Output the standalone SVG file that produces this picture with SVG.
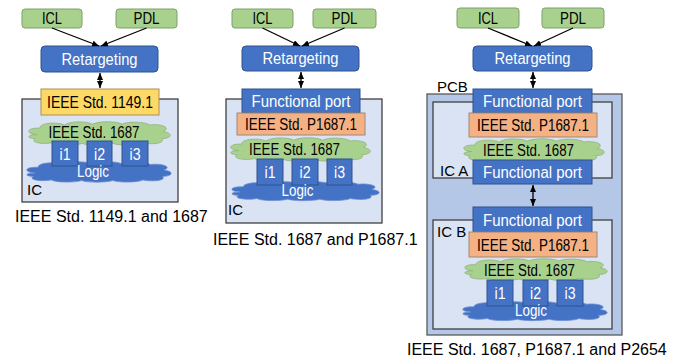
<svg xmlns="http://www.w3.org/2000/svg" xmlns:xlink="http://www.w3.org/1999/xlink" width="682" height="358" viewBox="0 0 682 358">
<style>
  .t { font-family: "Liberation Sans", Arial, sans-serif; font-size: 16px; text-anchor: middle; }
  .w { fill: #ffffff; }
  .k { fill: #000000; }
  .cap { font-family: "Liberation Sans", Arial, sans-serif; font-size: 16px; fill: #000; }
  .lbl { font-family: "Liberation Sans", Arial, sans-serif; font-size: 15px; fill: #000; }
  .gbox { fill: #a9d18e; stroke: #7f9f6a; stroke-width: 1; }
  .bbox { fill: #4472c4; stroke: #2f528f; stroke-width: 1; }
  .obox { fill: #f4b183; stroke: #a08878; stroke-width: 1; }
  .ybox { fill: #ffd966; stroke: #a6915a; stroke-width: 1; }
  .ic { fill: #dae3f3; stroke: #404040; stroke-width: 1.3; }
  .pcb { fill: #b4c7e7; stroke: #595959; stroke-width: 1.3; }
  .gcloud { fill: #a9d18e; stroke: #8fb07a; stroke-width: 0.8; }
  .bcloud { fill: #4472c4; stroke: #6d8fd0; stroke-width: 0.8; }
  .conn line { stroke: #000; stroke-width: 1.3; }
</style>
<defs>
  <marker id="ah" markerWidth="7" markerHeight="6" refX="7" refY="3" orient="auto-start-reverse" markerUnits="userSpaceOnUse">
    <path d="M0,0 L7,3 L0,6 z" fill="#000"/>
  </marker>
  <path id="cloud" vector-effect="non-scaling-stroke" d="M8,17 C0,16 1,8 10,9 C10,2 22,1 27,5 C30,0 42,0 46,4 C50,0 62,0 66,4 C70,0 82,1 85,5 C92,3 100,8 94,13 C101,15 100,22 93,22 C96,28 86,30 80,27 C76,31 64,31 60,28 C55,31 43,31 39,28 C34,31 22,31 19,27 C11,30 3,26 7,22 C1,22 1,17 8,17 Z"/>
</defs>

<!-- Panel 1 -->
<g id="p1-icl"><rect class="gbox" x="22" y="9" width="60" height="19" rx="3"/><text class="t k" x="52" y="24" textLength="20" lengthAdjust="spacingAndGlyphs">ICL</text></g>
<g id="p1-pdl"><rect class="gbox" x="116" y="9" width="61" height="19" rx="3"/><text class="t k" x="146.5" y="24" textLength="26" lengthAdjust="spacingAndGlyphs">PDL</text></g>
<g id="p1-retarget"><rect class="bbox" x="41" y="46" width="117" height="26" rx="4"/><text class="t w" x="99.5" y="64.5" textLength="76" lengthAdjust="spacingAndGlyphs">Retargeting</text></g>
<g id="p1-ic"><rect class="ic" x="22" y="99" width="156" height="103"/><text class="lbl" x="27" y="195">IC</text></g>
<g id="p1-1149"><rect class="ybox" x="41" y="89" width="118" height="26"/><text class="t k" x="100" y="108" textLength="106" lengthAdjust="spacingAndGlyphs">IEEE Std. 1149.1</text></g>
<g id="p1-1687"><use xlink:href="#cloud" class="gcloud" transform="translate(25,121) scale(1.47,0.8)"/><text class="t k" x="94" y="138" textLength="91" lengthAdjust="spacingAndGlyphs">IEEE Std. 1687</text></g>
<g id="p1-logic"><use xlink:href="#cloud" class="bcloud" transform="translate(23,161) scale(1.5,0.7)"/></g>
<g id="p1-i1"><rect class="bbox" x="52" y="141" width="26" height="25"/><text class="t w" x="65" y="159.5" textLength="11" lengthAdjust="spacingAndGlyphs">i1</text></g>
<g id="p1-i2"><rect class="bbox" x="87" y="141" width="25" height="25"/><text class="t w" x="99.5" y="159.5" textLength="11" lengthAdjust="spacingAndGlyphs">i2</text></g>
<g id="p1-i3"><rect class="bbox" x="122" y="141" width="26" height="25"/><text class="t w" x="135" y="159.5" textLength="11" lengthAdjust="spacingAndGlyphs">i3</text></g>
<text class="t w" x="93" y="177" textLength="32" lengthAdjust="spacingAndGlyphs">Logic</text>
<text class="cap" x="15" y="222">IEEE Std. 1149.1 and 1687</text>

<!-- Panel 2 -->
<g id="p2-icl"><rect class="gbox" x="232" y="9" width="61" height="19" rx="3"/><text class="t k" x="262.5" y="24" textLength="20" lengthAdjust="spacingAndGlyphs">ICL</text></g>
<g id="p2-pdl"><rect class="gbox" x="313" y="9" width="63" height="19" rx="3"/><text class="t k" x="344.5" y="24" textLength="26" lengthAdjust="spacingAndGlyphs">PDL</text></g>
<g id="p2-retarget"><rect class="bbox" x="242" y="46" width="117" height="25" rx="4"/><text class="t w" x="300.5" y="64" textLength="76" lengthAdjust="spacingAndGlyphs">Retargeting</text></g>
<g id="p2-ic"><rect class="ic" x="226" y="99" width="156" height="124"/><text class="lbl" x="228" y="215">IC</text></g>
<g id="p2-fp"><rect class="bbox" x="242" y="89" width="118" height="24"/><text class="t w" x="301" y="107" textLength="99" lengthAdjust="spacingAndGlyphs">Functional port</text></g>
<g id="p2-p1687"><rect class="obox" x="237" y="113" width="128" height="22"/><text class="t k" x="301" y="130" textLength="112" lengthAdjust="spacingAndGlyphs">IEEE Std. P1687.1</text></g>
<g id="p2-1687"><use xlink:href="#cloud" class="gcloud" transform="translate(227,137) scale(1.45,0.8)"/><text class="t k" x="294.5" y="155" textLength="91" lengthAdjust="spacingAndGlyphs">IEEE Std. 1687</text></g>
<g id="p2-logic"><use xlink:href="#cloud" class="bcloud" transform="translate(228,181) scale(1.53,0.65)"/></g>
<g id="p2-i1"><rect class="bbox" x="257" y="159" width="26" height="26"/><text class="t w" x="270" y="178" textLength="11" lengthAdjust="spacingAndGlyphs">i1</text></g>
<g id="p2-i2"><rect class="bbox" x="292" y="159" width="26" height="26"/><text class="t w" x="305" y="178" textLength="11" lengthAdjust="spacingAndGlyphs">i2</text></g>
<g id="p2-i3"><rect class="bbox" x="327" y="159" width="25" height="26"/><text class="t w" x="339.5" y="178" textLength="11" lengthAdjust="spacingAndGlyphs">i3</text></g>
<text class="t w" x="297.5" y="195.5" textLength="32" lengthAdjust="spacingAndGlyphs">Logic</text>
<text class="cap" x="213" y="245">IEEE Std. 1687 and P1687.1</text>

<!-- Panel 3 -->
<g id="p3-icl"><rect class="gbox" x="457" y="8" width="62" height="20" rx="3"/><text class="t k" x="488" y="24" textLength="20" lengthAdjust="spacingAndGlyphs">ICL</text></g>
<g id="p3-pdl"><rect class="gbox" x="542" y="8" width="62" height="20" rx="3"/><text class="t k" x="573" y="24" textLength="26" lengthAdjust="spacingAndGlyphs">PDL</text></g>
<g id="p3-retarget"><rect class="bbox" x="473" y="46" width="119" height="25" rx="4"/><text class="t w" x="532.5" y="64" textLength="76" lengthAdjust="spacingAndGlyphs">Retargeting</text></g>
<g id="p3-pcb"><rect class="pcb" x="427" y="94" width="195" height="241"/><text class="lbl" x="437" y="92" font-size="16">PCB</text></g>
<g id="p3-ica"><rect class="ic" x="433" y="102" width="179" height="76"/><text class="lbl" x="440" y="176" font-size="16">IC A</text></g>
<g id="p3-icb"><rect class="ic" x="433" y="220" width="179" height="109"/><text class="lbl" x="437" y="237" font-size="16">IC B</text></g>
<g id="p3-fp1"><rect class="bbox" x="473" y="89" width="119" height="24"/><text class="t w" x="532.5" y="107" textLength="99" lengthAdjust="spacingAndGlyphs">Functional port</text></g>
<g id="p3-p1687a"><rect class="obox" x="469" y="113" width="128" height="24"/><text class="t k" x="533" y="131" textLength="112" lengthAdjust="spacingAndGlyphs">IEEE Std. P1687.1</text></g>
<g id="p3-1687a"><use xlink:href="#cloud" class="gcloud" transform="translate(460,138) scale(1.46,0.8)"/><text class="t k" x="528.5" y="156" textLength="91" lengthAdjust="spacingAndGlyphs">IEEE Std. 1687</text></g>
<g id="p3-fp2"><rect class="bbox" x="473" y="160" width="119" height="24"/><text class="t w" x="532.5" y="178" textLength="99" lengthAdjust="spacingAndGlyphs">Functional port</text></g>
<g id="p3-fp3"><rect class="bbox" x="473" y="207" width="119" height="25"/><text class="t w" x="532.5" y="225.5" textLength="99" lengthAdjust="spacingAndGlyphs">Functional port</text></g>
<g id="p3-p1687b"><rect class="obox" x="469" y="232" width="128" height="25"/><text class="t k" x="533" y="250.5" textLength="112" lengthAdjust="spacingAndGlyphs">IEEE Std. P1687.1</text></g>
<g id="p3-1687b"><use xlink:href="#cloud" class="gcloud" transform="translate(461,258) scale(1.48,0.75)"/><text class="t k" x="529.5" y="275.5" textLength="91" lengthAdjust="spacingAndGlyphs">IEEE Std. 1687</text></g>
<g id="p3-logic"><use xlink:href="#cloud" class="bcloud" transform="translate(459,301) scale(1.5,0.65)"/></g>
<g id="p3-i1"><rect class="bbox" x="487" y="280" width="26" height="26"/><text class="t w" x="500" y="299" textLength="11" lengthAdjust="spacingAndGlyphs">i1</text></g>
<g id="p3-i2"><rect class="bbox" x="523" y="280" width="25" height="26"/><text class="t w" x="535.5" y="299" textLength="11" lengthAdjust="spacingAndGlyphs">i2</text></g>
<g id="p3-i3"><rect class="bbox" x="557" y="280" width="26" height="26"/><text class="t w" x="570" y="299" textLength="11" lengthAdjust="spacingAndGlyphs">i3</text></g>
<text class="t w" x="531" y="316" textLength="32" lengthAdjust="spacingAndGlyphs">Logic</text>
<text class="cap" x="407" y="355">IEEE Std. 1687, P1687.1 and P2654</text>

<!-- Connectors -->
<g id="connectors" class="conn">
  <line x1="52" y1="28" x2="99" y2="46" marker-end="url(#ah)"/>
  <line x1="146.5" y1="28" x2="101" y2="46" marker-end="url(#ah)"/>
  <line x1="100" y1="73" x2="100" y2="88" marker-start="url(#ah)" marker-end="url(#ah)"/>
  <line x1="262.5" y1="28" x2="300" y2="46" marker-end="url(#ah)"/>
  <line x1="344.5" y1="28" x2="302" y2="46" marker-end="url(#ah)"/>
  <line x1="301" y1="72" x2="301" y2="88" marker-start="url(#ah)" marker-end="url(#ah)"/>
  <line x1="488" y1="28" x2="532" y2="46" marker-end="url(#ah)"/>
  <line x1="573" y1="28" x2="534" y2="46" marker-end="url(#ah)"/>
  <line x1="533" y1="72" x2="533" y2="88" marker-start="url(#ah)" marker-end="url(#ah)"/>
  <line x1="533" y1="185" x2="533" y2="206" marker-start="url(#ah)" marker-end="url(#ah)"/>
</g>
</svg>
